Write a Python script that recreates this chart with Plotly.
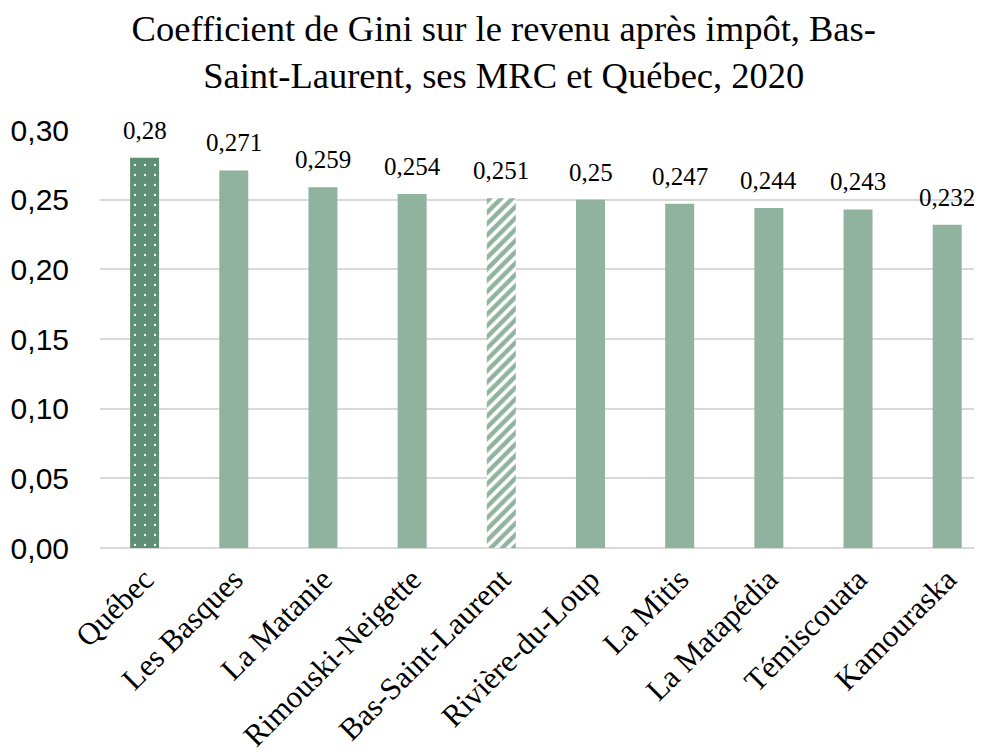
import plotly.graph_objects as go

categories = ["Québec", "Les Basques", "La Matanie", "Rimouski-Neigette", "Bas-Saint-Laurent",
              "Rivière-du-Loup", "La Mitis", "La Matapédia", "Témiscouata", "Kamouraska"]
values = [0.28, 0.271, 0.259, 0.254, 0.251, 0.25, 0.247, 0.244, 0.243, 0.232]
labels = ["0,28", "0,271", "0,259", "0,254", "0,251", "0,25", "0,247", "0,244", "0,243", "0,232"]
y_ticks = [0, 0.05, 0.10, 0.15, 0.20, 0.25, 0.30]

dark = "#5f9075"
light = "#8fb39f"

serif = "Liberation Serif, Times New Roman, serif"
sans = "Liberation Sans, Arial, sans-serif"
label_font = dict(family=serif, size=25, color="#000000")

fig = go.Figure()

# Québec: dotted bar
fig.add_trace(go.Bar(
    x=categories[:1], y=values[:1], width=0.325, hoverinfo="x+y",
    marker=dict(color=dark, line=dict(width=0),
                pattern=dict(shape=".", fgcolor="#ffffff", size=10, solidity=0.04,
                             fillmode="overlay", fgopacity=1)),
))

# Other regions (Bas-Saint-Laurent striped)
rest = categories[1:]
shapes = ["/" if c == "Bas-Saint-Laurent" else "" for c in rest]
fig.add_trace(go.Bar(
    x=rest, y=values[1:], width=0.325, hoverinfo="x+y",
    marker=dict(color=light, line=dict(width=0),
                pattern=dict(shape=shapes, fgcolor="#ffffff", bgcolor=light, size=8,
                             solidity=0.45, fillmode="replace", fgopacity=1)),
))

# data labels
for c, v, t in zip(categories, values, labels):
    fig.add_annotation(x=c, y=v, text=t, showarrow=False, yanchor="bottom", xanchor="center",
                       yshift=12, font=label_font)

fig.update_layout(
    width=974, height=746,
    margin=dict(l=92, r=0, t=122, b=206),
    paper_bgcolor="white", plot_bgcolor="white",
    separators=", ",
    showlegend=False,
    barmode="overlay",
    title=dict(text="Coefficient de Gini sur le revenu après impôt, Bas-<br>Saint-Laurent, ses MRC et Québec, 2020",
               x=0.509, xref="container", y=1 - 33 / 746, yref="container", yanchor="middle", xanchor="center",
               font=dict(family=serif, size=36.5, color="#000000")),
    xaxis=dict(range=[-0.5, 9.39], tickangle=-45, showgrid=False, showline=False,
               categoryorder="array", categoryarray=categories,
               tickfont=dict(family=serif, size=31, color="#000000"),
               ticks="", ticklabelstandoff=6, fixedrange=True, automargin=False),
    yaxis=dict(range=[0, 0.30], tickvals=y_ticks, tickformat=".2f",
               showgrid=True, gridcolor="#d9d9d9", gridwidth=2,
               zeroline=True, zerolinecolor="#d9d9d9", zerolinewidth=2,
               tickfont=dict(family=sans, size=30, color="#000000"),
               ticklabelstandoff=30, fixedrange=True, automargin=False),
)

fig.write_html("out.html")
